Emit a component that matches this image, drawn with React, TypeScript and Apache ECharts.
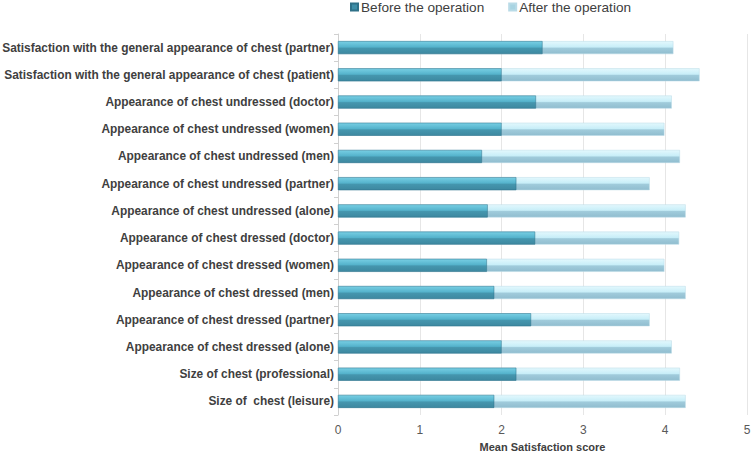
import React, { useEffect, useRef } from "react";
import * as echarts from "echarts";

const categories: string[] = [
  "Satisfaction with the general appearance of chest (partner)",
  "Satisfaction with the general appearance of chest (patient)",
  "Appearance of chest undressed (doctor)",
  "Appearance of chest undressed (women)",
  "Appearance of chest undressed (men)",
  "Appearance of chest undressed (partner)",
  "Appearance of chest undressed (alone)",
  "Appearance of chest dressed (doctor)",
  "Appearance of chest dressed (women)",
  "Appearance of chest dressed (men)",
  "Appearance of chest dressed (partner)",
  "Appearance of chest dressed (alone)",
  "Size of chest (professional)",
  "Size of  chest (leisure)",
];

const beforeValues: number[] = [2.5, 2.0, 2.42, 2.0, 1.76, 2.18, 1.83, 2.41, 1.82, 1.91, 2.36, 2.0, 2.18, 1.91];
const afterValues: number[] = [4.1, 4.42, 4.08, 3.99, 4.18, 3.81, 4.25, 4.17, 3.99, 4.25, 3.81, 4.08, 4.18, 4.25];

const xTicks: number[] = [0, 1, 2, 3, 4, 5];

export default function App() {
  const ref = useRef<HTMLDivElement>(null);
  useEffect(() => {
    if (!ref.current) return;
    const chart = echarts.init(ref.current, undefined, { renderer: "svg" });
    const beforeGrad = new echarts.graphic.LinearGradient(0, 0, 0, 1, [
      { offset: 0, color: "#78cfe4" },
      { offset: 0.45, color: "#55b3cc" },
      { offset: 0.55, color: "#4596ae" },
      { offset: 1, color: "#3d88a0" },
    ]);
    const afterGrad = new echarts.graphic.LinearGradient(0, 0, 0, 1, [
      { offset: 0, color: "#e3f8fd" },
      { offset: 0.45, color: "#c8eef8" },
      { offset: 0.55, color: "#a0cbdb" },
      { offset: 1, color: "#90bdcf" },
    ]);
    chart.setOption({
      animation: false,
      textStyle: { fontFamily: "Liberation Sans, Arial, sans-serif" },
      legend: {
        top: -5,
        left: 345,
        itemWidth: 7,
        itemHeight: 7,
        itemGap: 24,
        icon: "rect",
        data: [
          { name: "Before the operation", itemStyle: { color: "#3f8ea7" } },
          { name: "After the operation", itemStyle: { color: "#a8d4e2" } },
        ],
        textStyle: { fontSize: 13.6, color: "#404040", padding: [0, 0, 0, -2] },
      },
      grid: { left: 338, right: 6, top: 34, bottom: 36, containLabel: false, outerBoundsMode: "none" },
      xAxis: {
        type: "value",
        min: xTicks[0],
        max: xTicks[xTicks.length - 1],
        interval: 1,
        name: "Mean Satisfaction score",
        nameLocation: "middle",
        nameGap: 26,
        nameTextStyle: { fontSize: 11, fontWeight: "bold", color: "#404040" },
        axisLine: { show: false },
        axisTick: { show: false },
        axisLabel: { fontSize: 12, color: "#595959", margin: 9 },
        splitLine: { show: true, lineStyle: { color: "#e6e6e6", width: 1 } },
      },
      yAxis: {
        type: "category",
        inverse: true,
        data: categories,
        axisLine: { show: true, lineStyle: { color: "#d0d0d0" } },
        axisTick: { show: true, length: 4, lineStyle: { color: "#d0d0d0" } },
        axisLabel: { fontSize: 11.9, fontWeight: "bold", color: "#404040", margin: 4 },
      },
      series: [
        {
          name: "After the operation",
          type: "bar",
          data: afterValues,
          barWidth: 13,
          barGap: "-100%",
          z: 2,
          itemStyle: { color: afterGrad, borderColor: "#b9dbe7", borderWidth: 0.5 },
        },
        {
          name: "Before the operation",
          type: "bar",
          data: beforeValues,
          barWidth: 13,
          barGap: "-100%",
          z: 3,
          itemStyle: { color: beforeGrad, borderColor: "#2f7188", borderWidth: 0.5 },
        },
      ],
    });
    return () => chart.dispose();
  }, []);
  return <div ref={ref} style={{ width: 753, height: 451, position: "absolute", left: 0, top: 0 }} />;
}
